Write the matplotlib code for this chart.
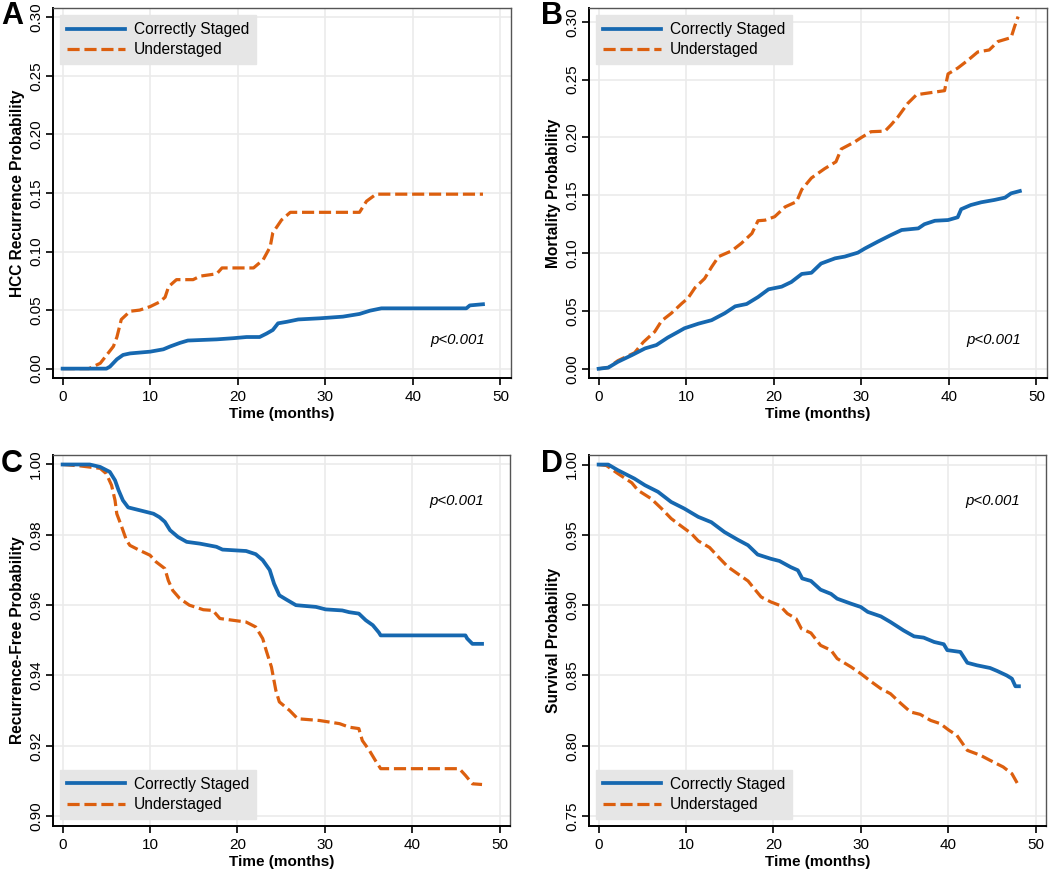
import matplotlib
matplotlib.use("Agg")
import matplotlib.pyplot as plt
from matplotlib.lines import Line2D

plt.rcParams['font.family'] = ['Liberation Sans', 'DejaVu Sans']

BLUE = '#1668b0'
ORANGE = '#dc5f0e'
GRID = '#ebebeb'
LEGBG = '#e6e6e6'

labels = ["Correctly Staged", "Understaged"]
xticks = [0, 10, 20, 30, 40, 50]

# ---- Panel A: HCC recurrence probability ----
a_cs_t = [0, 5.0, 5.4, 6.2, 6.9, 7.7, 10.0, 11.5, 12.3, 13.4, 14.3, 17.6, 19.5, 21.0, 22.5,
          23.3, 24.0, 24.6, 25.6, 26.9, 29.4, 32.0, 33.9, 35.1, 36.4, 46.1, 46.5, 48.0]
a_cs_y = [0, 0.0, 0.0017, 0.008, 0.0117, 0.013, 0.0145, 0.0165, 0.019, 0.022, 0.024, 0.025,
          0.026, 0.027, 0.027, 0.030, 0.033, 0.0387, 0.040, 0.042, 0.043, 0.0444, 0.0467,
          0.0495, 0.0515, 0.0515, 0.054, 0.055]
a_us_t = [0, 3.0, 4.3, 5.8, 6.2, 6.7, 7.7, 8.8, 10.0, 11.1, 11.7, 12.1, 13.0, 14.9, 15.7, 17.6,
          18.2, 21.8, 22.9, 23.7, 24.0, 25.0, 26.0, 33.9, 34.7, 35.8, 48.0]
a_us_y = [0, 0.0, 0.0046, 0.019, 0.027, 0.042, 0.049, 0.050, 0.053, 0.057, 0.061, 0.070, 0.076,
          0.076, 0.079, 0.081, 0.086, 0.086, 0.093, 0.104, 0.116, 0.127, 0.1335, 0.1335, 0.143,
          0.149, 0.149]

# ---- Panel B: mortality probability ----
b_cs_t = [0, 1.1, 2.2, 3.8, 5.3, 6.6, 7.9, 9.1, 9.8, 11.4, 12.9, 14.4, 15.6, 16.9, 18.2, 19.4,
          20.9, 22.0, 23.2, 24.3, 25.4, 27.0, 28.1, 29.6, 30.4, 31.9, 33.4, 34.6, 36.5, 37.2,
          38.4, 39.9, 41.0, 41.4, 42.5, 43.7, 45.2, 46.4, 47.1, 48.1]
b_cs_y = [0, 0.001, 0.006, 0.0118, 0.0176, 0.0205, 0.027, 0.032, 0.035, 0.039, 0.042, 0.048,
          0.054, 0.056, 0.062, 0.0687, 0.071, 0.075, 0.082, 0.083, 0.091, 0.0955, 0.097, 0.1004,
          0.104, 0.110, 0.1157, 0.120, 0.1214, 0.125, 0.128, 0.1286, 0.131, 0.138, 0.1416,
          0.144, 0.146, 0.148, 0.1517, 0.1537]
b_us_t = [0, 1.1, 2.2, 4.1, 5.1, 6.4, 7.2, 8.3, 9.5, 10.2, 11.0, 12.1, 12.9, 13.7, 15.2, 16.3,
          17.5, 18.2, 19.0, 20.1, 21.3, 22.6, 23.2, 24.3, 25.8, 27.1, 27.7, 29.2, 30.0, 31.1,
          32.7, 33.4, 34.2, 35.3, 36.3, 37.2, 39.5, 39.9, 41.0, 42.2, 43.3, 44.6, 45.6, 47.1,
          47.5, 47.9]
b_us_y = [0, 0.001, 0.007, 0.0138, 0.023, 0.032, 0.0415, 0.048, 0.0565, 0.061, 0.070, 0.078,
          0.088, 0.097, 0.102, 0.1085, 0.117, 0.128, 0.1285, 0.1315, 0.140, 0.1445, 0.155, 0.165,
          0.173, 0.179, 0.190, 0.196, 0.200, 0.205, 0.2055, 0.211, 0.218, 0.2295, 0.237, 0.238,
          0.2405, 0.255, 0.260, 0.267, 0.274, 0.2757, 0.283, 0.2864, 0.296, 0.3046]

# ---- Panel C: recurrence-free probability ----
c_cs_t = [0, 3.1, 4.3, 5.4, 6.0, 6.4, 6.9, 7.5, 8.8, 10.4, 11.1, 11.7, 12.3, 13.2, 14.2, 15.7,
          17.6, 18.3, 21.0, 22.1, 22.9, 23.7, 24.2, 24.8, 25.6, 26.7, 29.0, 30.1, 32.0, 32.8,
          33.9, 34.7, 35.5, 36.2, 36.4, 46.1, 46.3, 46.9, 48.0]
c_cs_y = [1.0, 1.0, 0.9993, 0.9979, 0.9955, 0.9927, 0.9898, 0.9878, 0.987, 0.986, 0.985, 0.9837,
          0.9813, 0.9794, 0.978, 0.9775, 0.9766, 0.9758, 0.9754, 0.9745, 0.9728, 0.970, 0.9661,
          0.9628, 0.9616, 0.960, 0.9595, 0.9588, 0.9585, 0.958, 0.9576, 0.9557, 0.9543, 0.9522,
          0.9514, 0.9514, 0.9505, 0.949, 0.949]
c_us_t = [0, 2.0, 4.3, 5.0, 5.6, 6.0, 6.2, 6.7, 7.3, 7.7, 8.8, 10.0, 10.7, 11.7, 12.1, 12.6, 13.4,
          14.5, 16.1, 17.2, 18.0, 21.0, 22.1, 22.9, 23.3, 23.9, 24.4, 24.8, 26.0, 26.9, 29.4,
          31.7, 32.8, 33.9, 34.3, 35.1, 35.8, 36.4, 45.4, 46.1, 46.9, 48.0]
c_us_y = [1.0, 0.9996, 0.9989, 0.9974, 0.9941, 0.9898, 0.986, 0.9827, 0.9785, 0.977, 0.9756,
          0.9742, 0.9723, 0.9704, 0.967, 0.9642, 0.9619, 0.960, 0.9587, 0.9585, 0.9562, 0.9552,
          0.9538, 0.9505, 0.9471, 0.9424, 0.9358, 0.9325, 0.930, 0.9277, 0.9272, 0.9263, 0.9253,
          0.9249, 0.9215, 0.9187, 0.9158, 0.9135, 0.9135, 0.9116, 0.9092, 0.909]

# ---- Panel D: survival probability ----
d_cs_t = [0, 1.1, 2.2, 4.1, 5.3, 6.8, 8.3, 9.8, 11.4, 12.9, 14.4, 15.9, 17.1, 18.2, 19.7, 20.7,
          22.0, 22.8, 23.3, 24.3, 25.4, 26.6, 27.3, 28.9, 30.0, 30.8, 32.3, 33.4, 34.9, 36.1,
          37.2, 38.4, 39.5, 39.9, 41.4, 42.2, 43.3, 44.8, 45.6, 46.7, 47.3, 47.7, 48.1]
d_cs_y = [1.0, 1.0, 0.996, 0.990, 0.9853, 0.9806, 0.9734, 0.9687, 0.9628, 0.959, 0.952, 0.9466,
          0.9426, 0.936, 0.933, 0.9314, 0.927, 0.9248, 0.919, 0.9172, 0.911, 0.908, 0.9046, 0.901,
          0.8987, 0.8952, 0.892, 0.888, 0.882, 0.8778, 0.8769, 0.8738, 0.8722, 0.868, 0.8667,
          0.859, 0.8572, 0.8553, 0.8532, 0.850, 0.8477, 0.8423, 0.8423]
d_us_t = [0, 0.9, 2.2, 3.8, 4.5, 6.0, 7.2, 8.3, 9.5, 10.6, 11.4, 12.7, 13.7, 14.8, 15.9, 17.1,
          17.8, 18.6, 19.7, 20.7, 21.6, 22.6, 23.2, 24.3, 25.4, 26.6, 27.3, 28.9, 30.0, 31.1,
          32.3, 33.4, 34.6, 35.7, 36.8, 38.0, 39.1, 40.1, 41.0, 42.2, 43.7, 44.8, 46.3, 47.3,
          47.9]
d_us_y = [1.0, 0.9993, 0.9936, 0.987, 0.9817, 0.9758, 0.9687, 0.9616, 0.956, 0.951, 0.9457,
          0.941, 0.9343, 0.9272, 0.9224, 0.9172, 0.9118, 0.9058, 0.9023, 0.8999, 0.894, 0.8904,
          0.8833, 0.8802, 0.8714, 0.8679, 0.862, 0.856, 0.8513, 0.846, 0.8406, 0.837, 0.830,
          0.824, 0.8223, 0.818, 0.8157, 0.811, 0.8074, 0.7967, 0.7932, 0.7896, 0.7849, 0.7801,
          0.7735]

panels = [
    dict(letter="A", ylabel="HCC Recurrence Probability", cs=(a_cs_t, a_cs_y), us=(a_us_t, a_us_y),
         yticks=[0.0, 0.05, 0.10, 0.15, 0.20, 0.25, 0.30], ylim=(-0.008, 0.308),
         legend_top=True),
    dict(letter="B", ylabel="Mortality Probability", cs=(b_cs_t, b_cs_y), us=(b_us_t, b_us_y),
         yticks=[0.0, 0.05, 0.10, 0.15, 0.20, 0.25, 0.30], ylim=(-0.008, 0.312),
         legend_top=True),
    dict(letter="C", ylabel="Recurrence-Free Probability", cs=(c_cs_t, c_cs_y), us=(c_us_t, c_us_y),
         yticks=[0.90, 0.92, 0.94, 0.96, 0.98, 1.00], ylim=(0.8972, 1.0027),
         legend_top=False),
    dict(letter="D", ylabel="Survival Probability", cs=(d_cs_t, d_cs_y), us=(d_us_t, d_us_y),
         yticks=[0.75, 0.80, 0.85, 0.90, 0.95, 1.00], ylim=(0.7429, 1.0068),
         legend_top=False),
]

W, H = 1050, 871
fig = plt.figure(figsize=(W / 100, H / 100), dpi=100)

boxes = [(53, 511, 8, 378), (589, 1047, 8, 378), (53, 510, 455, 826), (589, 1046, 455, 826)]
letter_pos = [(0, 0), (540, 0), (0, 448), (540, 448)]
DASH = (0, (3.8, 1.5))

for p, (l, r, t, b), (lx, ly) in zip(panels, boxes, letter_pos):
    ax = fig.add_axes([l / W, 1 - b / H, (r - l) / W, (b - t) / H])
    ax.set_xlim(-1.1, 51.2)
    ax.set_ylim(*p["ylim"])
    ax.set_xticks(xticks)
    ax.set_yticks(p["yticks"])
    ax.set_yticklabels([f"{v:.2f}" for v in p["yticks"]], rotation=90, va='center')
    ax.grid(True, color=GRID, lw=1.2)
    ax.set_axisbelow(True)
    ax.tick_params(direction='out', length=5, width=1.2, labelsize=11, colors='black')
    ax.tick_params(axis='y', pad=2)
    for s in ['left', 'bottom']:
        ax.spines[s].set_linewidth(1.4)
        ax.spines[s].set_color('black')
    for s in ['top', 'right']:
        ax.spines[s].set_linewidth(1.0)
        ax.spines[s].set_color('#555555')
    ax.plot(*p["us"], color=ORANGE, lw=2.3, ls=DASH)
    ax.plot(*p["cs"], color=BLUE, lw=2.7)
    ax.set_xlabel("Time (months)", fontsize=11, fontweight='bold', labelpad=2)
    ax.set_ylabel(p["ylabel"], fontsize=11.2, fontweight='bold', labelpad=3)
    handles = [Line2D([], [], color=BLUE, lw=2.7),
               Line2D([], [], color=ORANGE, lw=2.3, ls=DASH)]
    loc = 'upper left' if p["legend_top"] else 'lower left'
    leg = ax.legend(handles, labels, loc=loc, fontsize=11.2, frameon=True, fancybox=False,
                    borderaxespad=0.45, handlelength=3.7, handletextpad=0.6,
                    borderpad=0.45, labelspacing=0.35)
    leg.get_frame().set_facecolor(LEGBG)
    leg.get_frame().set_edgecolor(LEGBG)
    leg.get_frame().set_alpha(1)
    py = 0.103 if p["legend_top"] else 0.876
    ax.text(0.944, py, "p<0.001", transform=ax.transAxes, ha='right', va='center',
            fontsize=10.8, style='italic')
    fig.text((lx + 1) / W, 1 - (ly + 1) / H, p["letter"], fontsize=22, fontweight='bold',
             ha='left', va='top')

fig.savefig("out.png", dpi=100)
